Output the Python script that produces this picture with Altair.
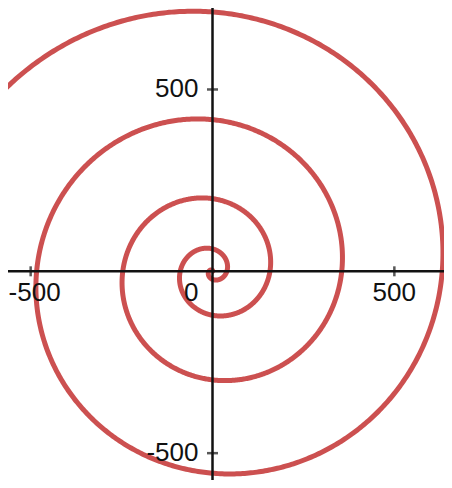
import math
import altair as alt
import pandas as pd

# ---- values ----
x_tick_values = [-500, 500]
x_tick_labels = ["-500", "500"]
y_tick_values = [500, -500]
y_tick_labels = ["500", "-500"]
origin_label = ["0"]

# spiral r = a * theta^p  (counter-clockwise from the origin)
spiral_coef = 1.0
spiral_power = 2.0
theta_start = 0.0
theta_end = 10 * math.pi
theta_step = 0.01

x_domain = [-562.3, 636.5]
y_domain = [-573.8, 724.0]

# ---- tables ----
xt = pd.DataFrame({"x": x_tick_values, "y": [0] * len(x_tick_values), "label": x_tick_labels})
yt = pd.DataFrame({"x": [0] * len(y_tick_values), "y": y_tick_values, "label": y_tick_labels})
ot = pd.DataFrame({"x": [0], "y": [0], "label": origin_label})

xs = alt.Scale(domain=x_domain, nice=False, zero=False)
ys = alt.Scale(domain=y_domain, nice=False, zero=False)
X = lambda: alt.X("x:Q", scale=xs, axis=None)
Y = lambda: alt.Y("y:Q", scale=ys, axis=None)

FONT = "Liberation Sans"
AX = "#111111"

spiral = (
    alt.Chart(alt.sequence(theta_start, theta_end, theta_step, as_="t"))
    .transform_calculate(r=f"{spiral_coef} * pow(datum.t, {spiral_power})")
    .transform_calculate(x="datum.r * cos(datum.t)", y="datum.r * sin(datum.t)")
    .mark_line(color="#cc5050", strokeWidth=5, clip=True)
    .encode(x=X(), y=Y(), order="t:Q")
)

x_axis_line = alt.Chart(ot).mark_rule(color=AX, strokeWidth=2.5).encode(y=Y())
y_axis_line = alt.Chart(ot).mark_rule(color=AX, strokeWidth=2.5).encode(x=X())

x_ticks = alt.Chart(xt).mark_tick(orient="vertical", size=10, thickness=2.5, color=AX).encode(x=X(), y=Y())
y_ticks = alt.Chart(yt).mark_tick(orient="horizontal", size=11, thickness=2.5, color=AX).encode(x=X(), y=Y())

x_labels_pos = alt.Chart(xt).transform_filter("datum.x >= 0").mark_text(
    align="right", baseline="alphabetic", dx=21.5, dy=29.5, fontSize=26, font=FONT, color=AX
).encode(x=X(), y=Y(), text="label:N")
# the left label is nudged so it stays inside the page
x_labels_neg = alt.Chart(xt).transform_filter("datum.x < 0").mark_text(
    align="right", baseline="alphabetic", dx=30, dy=29.5, fontSize=26, font=FONT, color=AX
).encode(x=X(), y=Y(), text="label:N")
y_labels = alt.Chart(yt).mark_text(
    align="right", baseline="middle", dx=-14, fontSize=26, font=FONT, color=AX
).encode(x=X(), y=Y(), text="label:N")
o_label = alt.Chart(ot).mark_text(
    align="right", baseline="alphabetic", dx=-14, dy=29.5, fontSize=26, font=FONT, color=AX
).encode(x=X(), y=Y(), text="label:N")

chart = (
    alt.layer(spiral, x_axis_line, y_axis_line, x_ticks, y_ticks,
              x_labels_pos, x_labels_neg, y_labels, o_label)
    .properties(width=436, height=472, autosize=alt.AutoSizeParams(type="none"), padding=0)
    .configure_view(strokeWidth=0)
)

chart.save("out.html", embed_options={"renderer": "svg", "actions": False})
